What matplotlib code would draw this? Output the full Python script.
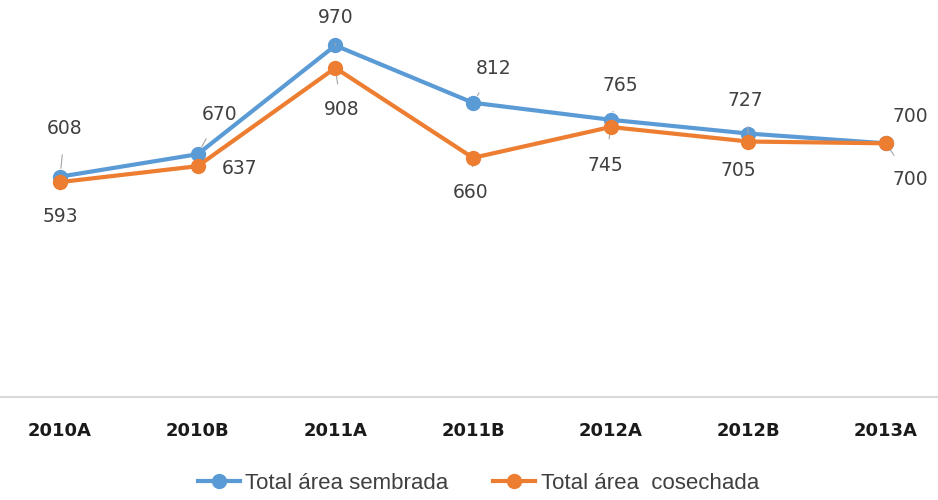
import matplotlib.pyplot as plt

# Datos
periodos = ['2010A', '2010B', '2011A', '2011B', '2012A', '2012B', '2013A']
sembrada = [608, 670, 970, 812, 765, 727, 700]
cosechada = [593, 637, 908, 660, 745, 705, 700]

# desplazamientos de las etiquetas (pixeles)
off_semb = [(5, 48), (22, 40), (0, 28), (21, 34), (10, 34), (-3, 33), (24, 27)]
off_cos = [(0, -34), (42, -2), (6, -42), (-2, -35), (-5, -38), (-10, -29), (24, -36)]

AZUL = '#5B9BD5'
NARANJA = '#ED7D31'

fig = plt.figure(figsize=(9.38, 5.0), dpi=100)
ax = fig.add_axes([0, 0.206, 1, 0.79])

x = list(range(len(periodos)))
ax.plot(x, sembrada, color=AZUL, lw=3, marker='o', ms=10, label='Total área sembrada', zorder=3)
ax.plot(x, cosechada, color=NARANJA, lw=3, marker='o', ms=10, label='Total área  cosechada', zorder=4)

for i in x:
    ax.annotate(str(sembrada[i]), (i, sembrada[i]), xytext=off_semb[i], textcoords='offset pixels',
                ha='center', va='center', fontsize=13.5, color='#404040',
                arrowprops=dict(arrowstyle='-', color='#A6A6A6', lw=0.8, shrinkA=10, shrinkB=6))
    ax.annotate(str(cosechada[i]), (i, cosechada[i]), xytext=off_cos[i], textcoords='offset pixels',
                ha='center', va='center', fontsize=13.5, color='#404040',
                arrowprops=dict(arrowstyle='-', color='#A6A6A6', lw=0.8, shrinkA=10, shrinkB=6))

ax.set_xlim(-0.436, 6.378)
ax.set_ylim(0, 1090)
ax.set_xticks(x)
ax.set_xticklabels(periodos, fontsize=13, fontweight='bold', color='#1a1a1a')
ax.tick_params(axis='x', length=0, pad=18)
ax.set_yticks([])
for s in ['top', 'right', 'left']:
    ax.spines[s].set_visible(False)
ax.spines['bottom'].set_color('#D9D9D9')
ax.spines['bottom'].set_linewidth(1.5)

fig.legend(loc='lower center', bbox_to_anchor=(0.51, -0.028), ncol=2, frameon=False,
           handlelength=1.9, handletextpad=0.25, columnspacing=2.0,
           prop={'size': 16, 'family': ['Liberation Sans', 'DejaVu Sans']},
           labelcolor='#404040')

fig.savefig('out.png', dpi=100)
